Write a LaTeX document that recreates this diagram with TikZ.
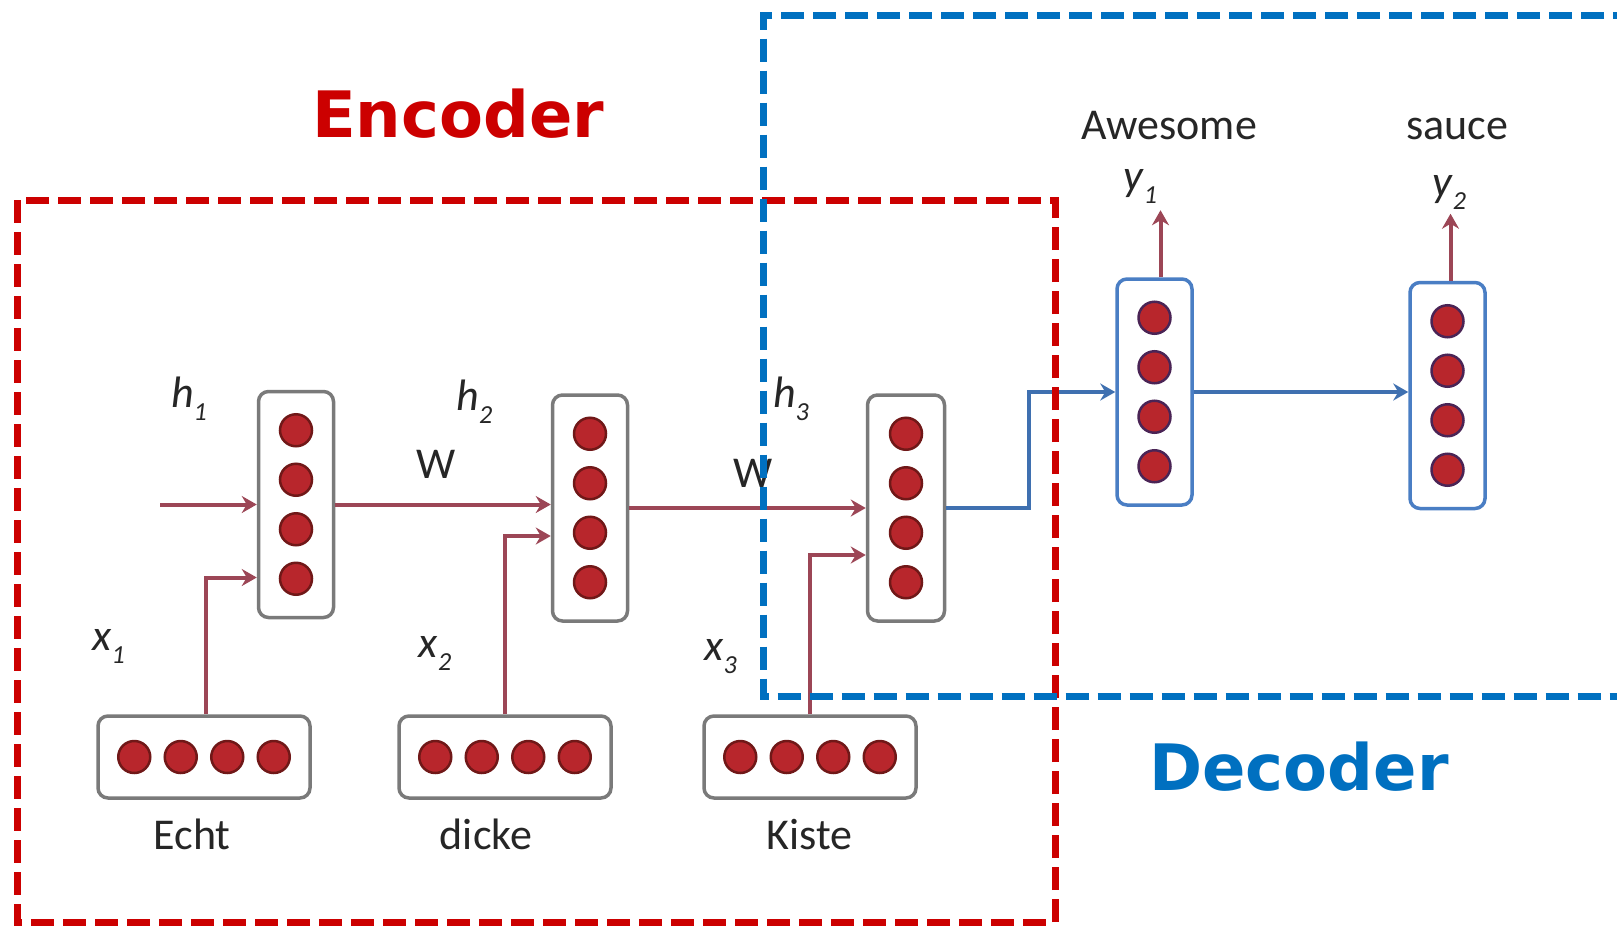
\documentclass[tikz,border=0pt]{standalone}
\usepackage{fontspec}
\setmainfont{Carlito}
\newfontfamily\headfont{DejaVu Sans}
\usetikzlibrary{arrows.meta,calc}
\definecolor{encred}{HTML}{CC0000}
\definecolor{decblue}{HTML}{0070C0}
\definecolor{arrred}{HTML}{9C4656}
\definecolor{arrblue}{HTML}{3F70B0}
\definecolor{boxgray}{HTML}{7A7A7A}
\definecolor{boxblue}{HTML}{4A7EC4}
\definecolor{dotfill}{HTML}{B8262C}
\definecolor{dotedge}{HTML}{701818}
\definecolor{dotedgeb}{HTML}{4A2455}
\definecolor{txtgray}{HTML}{262626}
\newcommand\sublabel[2]{\textit{#1}\raisebox{-13pt}{\fontsize{26}{26}\selectfont\textit{#2}}}
\tikzset{
 txt/.style={font=\fontsize{44}{48}\selectfont, text=txtgray, inner sep=0pt, anchor=base},
 heading/.style={font=\headfont\bfseries\fontsize{64}{70}\selectfont, inner sep=0pt, anchor=base},
 vbox/.style={draw=boxgray, line width=3.5pt, rounded corners=10pt, minimum width=75pt, minimum height=226pt, inner sep=0pt, fill=white},
 vboxb/.style={vbox, draw=boxblue},
 hbox/.style={draw=boxgray, line width=3.5pt, rounded corners=10pt, minimum width=212pt, minimum height=82pt, inner sep=0pt, fill=white},
 neuron/.style={circle, fill=dotfill, draw=dotedge, line width=2.5pt, minimum size=32pt, inner sep=0pt},
 neuronb/.style={neuron, draw=dotedgeb},
 redarrow/.style={draw=arrred, line width=4pt, -{Stealth[length=15pt,width=17pt,inset=5pt]}},
 bluearrow/.style={draw=arrblue, line width=4pt, -{Stealth[length=15pt,width=17pt,inset=5pt]}},
 encframe/.style={draw=encred, line width=7pt, dash pattern=on 23pt off 9pt},
 decframe/.style={draw=decblue, line width=7pt, dash pattern=on 23pt off 9pt},
}
\begin{document}
\begin{tikzpicture}[x=1pt,y=-1pt]
\useasboundingbox (0,0) rectangle (1617,926);
\clip (0,0) rectangle (1617,926);
\fill[white] (0,0) rectangle (1617,926);

% encoder hidden states
\node[vbox] (h1) at (296,504.5) {};
\node[vbox] (h2) at (590,508) {};
\node[vbox, minimum width=77pt] (h3) at (906,508) {};
\foreach \b in {h1,h2,h3}
  \foreach \i/\d in {1/-74.25,2/-24.75,3/24.75,4/74.25}
    \node[neuron] (\b-n\i) at ($(\b)+(0,\d)$) {};

% input embeddings
\node[hbox] (e1) at (204,757) {};
\node[hbox] (e2) at (505,757) {};
\node[hbox] (e3) at (810,757) {};
\foreach \b in {e1,e2,e3}
  \foreach \i/\d in {1/-69.75,2/-23.25,3/23.25,4/69.75}
    \node[neuron] (\b-n\i) at ($(\b)+(\d,0)$) {};

% words
\node[txt] (w1) at (192,849) {Echt};
\node[txt] (w2) at (486,849) {dicke};
\node[txt] (w3) at (809.5,849) {Kiste};

% labels
\node[txt] (lh1) at (189,407) {\sublabel{h}{1}};
\node[txt] (lh2) at (474.5,410) {\sublabel{h}{2}};
\node[txt] (lh3) at (791,407) {\sublabel{h}{3}};
\node[txt] (lx1) at (108.5,650) {\sublabel{x}{1}};
\node[txt] (lx2) at (435,657) {\sublabel{x}{2}};
\node[txt] (lx3) at (720.5,660) {\sublabel{x}{3}};
\node[txt] (lw1) at (436,478) {W};
\node[txt] (lw2) at (753,487) {W};

% encoder arrows
\coordinate (start) at (160,504.5);
\draw[redarrow] (start) -- (h1.west);
\draw[redarrow] (h1.east) -- (h1.east -| h2.west);
\draw[redarrow] (h2.east) -- (h2.east -| h3.west);
\draw[redarrow] ([xshift=2pt]e1.north) |- ([yshift=-73pt]h1.west);
\draw[redarrow] (e2.north) |- ([yshift=-28pt]h2.west);
\draw[redarrow] (e3.north) |- ([yshift=-47pt]h3.west);

% decoder
\node[vboxb] (d1) at (1154.5,392) {};
\node[vboxb] (d2) at (1447.5,395.5) {};
\foreach \b in {d1,d2}
  \foreach \i/\d in {1/-74.25,2/-24.75,3/24.75,4/74.25}
    \node[neuronb] (\b-n\i) at ($(\b)+(0,\d)$) {};

\draw[bluearrow] (h3.east) -- ++(83,0) |- (d1.west);
\draw[bluearrow] (d1.east) -- (d1.east -| d2.west);
\draw[redarrow] ([xshift=6pt]d1.north) -- ++(0,-67);
\draw[redarrow] ([xshift=3pt]d2.north) -- ++(0,-67);

\node[txt] (ly1) at (1140,190) {\sublabel{y}{1}};
\node[txt] (ly2) at (1449,196) {\sublabel{y}{2}};
\node[txt] (o1) at (1169,139) {Awesome};
\node[txt] (o2) at (1457,139) {sauce};

% frames
\draw[encframe] (17,200) rectangle (1055,922);
\draw[decframe] (1700,15.5) -- (763,15.5) -- (763,696) -- (1700,696);

% headings
\node[heading, text=encred] (enc) at (458,137) {Encoder};
\node[heading, text=decblue] (dec) at (1299,790) {Decoder};
\end{tikzpicture}
\end{document}
